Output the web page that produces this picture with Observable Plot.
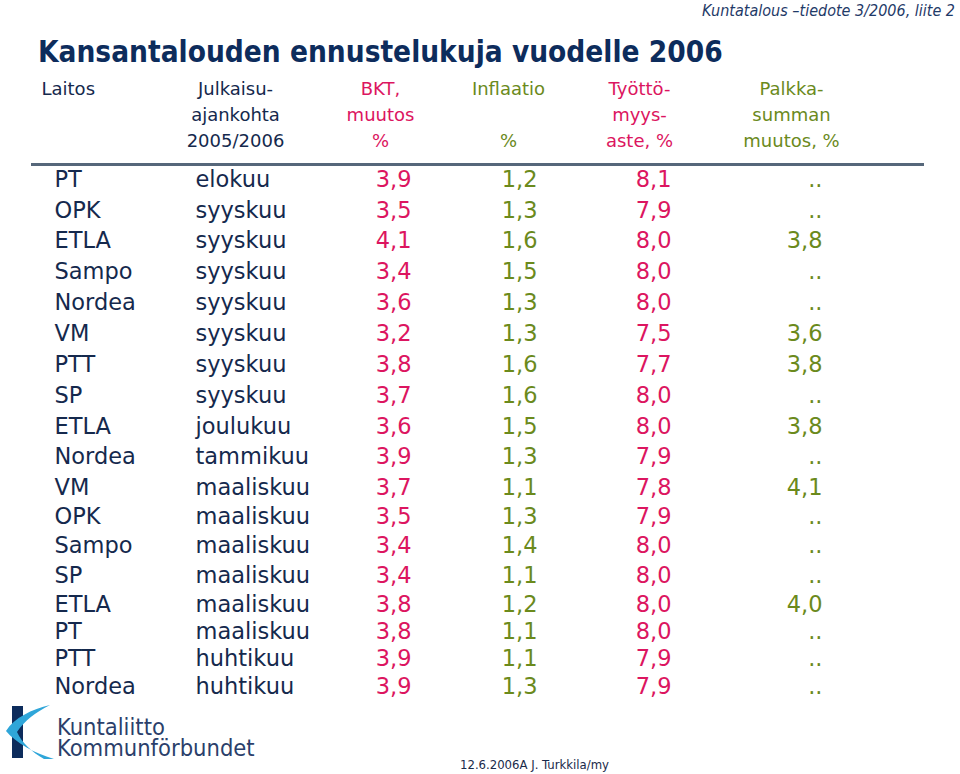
<!DOCTYPE html>
<html><head><meta charset="utf-8">
<script src="https://cdn.jsdelivr.net/npm/d3@7"></script>
<script src="https://cdn.jsdelivr.net/npm/@observablehq/plot@0.6"></script>
<style>
html,body{margin:0;padding:0;background:#fff}
body{width:960px;height:774px;position:relative;overflow:hidden;font-family:"DejaVu Sans Condensed","DejaVu Sans",sans-serif}
#chart{position:absolute;left:0;top:0}
.note{position:absolute;right:5px;top:1px;font-style:italic;font-size:16px;line-height:19px;color:#1f3a68;white-space:nowrap}
h1{position:absolute;left:38px;top:37px;margin:0;font-size:29.5px;line-height:30px;font-weight:bold;color:#0d2c5c;white-space:nowrap}
.logo{position:absolute;left:0;top:700px}
.logotext{position:absolute;left:57px;top:717px;font-size:23.5px;line-height:21px;color:#2b3f6b;white-space:nowrap}
.footer{position:absolute;left:460px;top:758px;font-size:13px;line-height:14px;color:#1a2a4a;white-space:nowrap}
</style>
</head><body>
<div id="chart"></div>
<div class="note">Kuntatalous –tiedote 3/2006, liite 2</div>
<h1>Kansantalouden ennustelukuja vuodelle 2006</h1>
<svg class="logo" width="60" height="64" viewBox="0 0 60 64">
  <rect x="12" y="6" width="11" height="52" fill="#0d2c5c"/>
  <path d="M50,5 C32,9 14,18 6,31 C16,43 34,53 54,59 L44,59 C32,52 22,43 17,32 C24,21 36,12 50,5 Z" fill="#2fa6d9"/>
</svg>
<div class="logotext">Kuntaliitto<br>Kommunförbundet</div>
<div class="footer">12.6.2006A J. Turkkila/my</div>
<script>
// ---- data ----
const laitos = ["PT","OPK","ETLA","Sampo","Nordea","VM","PTT","SP","ETLA","Nordea","VM","OPK","Sampo","SP","ETLA","PT","PTT","Nordea"];
const julkaisu = ["elokuu","syyskuu","syyskuu","syyskuu","syyskuu","syyskuu","syyskuu","syyskuu","joulukuu","tammikuu","maaliskuu","maaliskuu","maaliskuu","maaliskuu","maaliskuu","maaliskuu","huhtikuu","huhtikuu"];
const bkt = [3.9,3.5,4.1,3.4,3.6,3.2,3.8,3.7,3.6,3.9,3.7,3.5,3.4,3.4,3.8,3.8,3.9,3.9];
const inflaatio = [1.2,1.3,1.6,1.5,1.3,1.3,1.6,1.6,1.5,1.3,1.1,1.3,1.4,1.1,1.2,1.1,1.1,1.3];
const tyottomyys = [8.1,7.9,8.0,8.0,8.0,7.5,7.7,8.0,8.0,7.9,7.8,7.9,8.0,8.0,8.0,8.0,7.9,7.9];
const palkka = [null,null,3.8,null,null,3.6,3.8,null,3.8,null,4.1,null,null,null,4.0,null,null,null];
const columnKeys = ["laitos","julkaisu","bkt","inflaatio","tyottomyys","palkka"];
const headers = ["Laitos\n\n", "Julkaisu-\najankohta\n2005/2006", "BKT,\nmuutos\n%", "Inflaatio\n\n%", "Työttö-\nmyys-\naste, %", "Palkka-\nsumman\nmuutos, %"];

// ---- build table ----
const fmt = v => v == null ? ".." : v.toFixed(1).replace(".", ",");
const rows = laitos.map((l, i) => ({
  i, laitos: l, julkaisu: julkaisu[i],
  bkt: fmt(bkt[i]), inflaatio: fmt(inflaatio[i]), tyottomyys: fmt(tyottomyys[i]), palkka: fmt(palkka[i])
}));

const navy = "#15294d", crimson = "#dc1560", olive = "#6b8a1c";
const style = {
  laitos:     {fill: navy,    anchor: "start", dx: 0,   hAnchor: "start",  hdx: -13},
  julkaisu:   {fill: navy,    anchor: "start", dx: -13, hAnchor: "middle", hdx: 27},
  bkt:        {fill: crimson, anchor: "end",   dx: 49,  hAnchor: "middle", hdx: 18},
  inflaatio:  {fill: olive,   anchor: "end",   dx: 21,  hAnchor: "middle", hdx: -8},
  tyottomyys: {fill: crimson, anchor: "end",   dx: 1,   hAnchor: "middle", hdx: -31},
  palkka:     {fill: olive,   anchor: "end",   dx: -2,  hAnchor: "middle", hdx: -33}
};

const marks = [Plot.frame({anchor: "top", stroke: "#56677a", strokeWidth: 3})];
columnKeys.forEach((k, ci) => {
  const s = style[k];
  marks.push(Plot.text(rows, {
    x: () => k, y: "i", text: k, fill: s.fill, textAnchor: s.anchor, dx: s.dx,
    fontSize: 22.5, fontFamily: "DejaVu Sans, Verdana, sans-serif"
  }));
  marks.push(Plot.text([headers[ci]], {
    x: () => k, frameAnchor: "top", lineAnchor: "top", text: d => d, fill: s.fill,
    textAnchor: s.hAnchor, dx: s.hdx, dy: -88, lineHeight: 1.44,
    fontSize: 18, fontFamily: "DejaVu Sans, Verdana, sans-serif"
  }));
});

const chart = Plot.plot({
  width: 960, height: 774,
  marginTop: 164, marginBottom: 73, marginLeft: 32, marginRight: 38,
  x: {type: "point", domain: columnKeys, range: [53, 825], padding: 0, axis: null},
  // table rows are not evenly spaced in the original: piecewise-linear row scale
  y: {type: "linear", domain: [0, 10, 14, 17], range: [179, 487.5, 604, 686], axis: null},
  marks
});
document.getElementById("chart").appendChild(chart);
</script>
</body></html>
